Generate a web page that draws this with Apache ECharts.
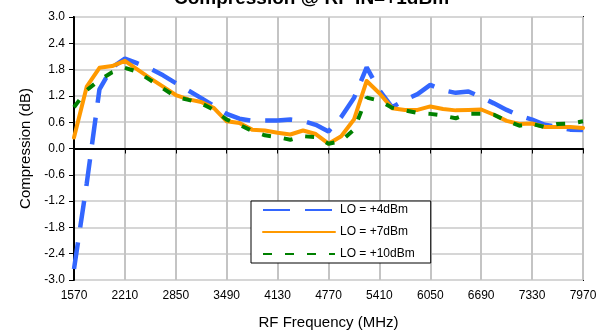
<!DOCTYPE html>
<html>
<head>
<meta charset="utf-8">
<script src="https://cdn.jsdelivr.net/npm/echarts@6/dist/echarts.min.js"></script>
<style>
html,body{margin:0;padding:0;background:#fff;}
#chart{width:601px;height:335px;}
</style>
</head>
<body>
<div id="chart"></div>
<script>
var frequencies = [1570,1730,1890,2050,2210,2370,2530,2690,2850,3010,3170,3330,3490,3650,3810,3970,4130,4290,4450,4610,4770,4930,5090,5250,5410,5570,5730,5890,6050,6210,6370,6530,6690,6850,7010,7170,7330,7490,7650,7810,7970];
var lo4 = [-2.75,-0.8,1.35,1.85,2.05,1.94,1.82,1.67,1.49,1.32,1.15,0.97,0.79,0.68,0.63,0.64,0.64,0.66,0.63,0.54,0.39,0.72,1.15,1.85,1.33,0.94,1.11,1.24,1.45,1.33,1.27,1.30,1.17,1.03,0.88,0.75,0.66,0.54,0.49,0.43,0.42];
var lo7 = [0.25,1.41,1.84,1.88,2.0,1.8,1.6,1.41,1.22,1.12,1.06,0.92,0.62,0.58,0.43,0.41,0.36,0.32,0.41,0.33,0.11,0.28,0.66,1.54,1.26,0.92,0.88,0.88,0.96,0.90,0.87,0.88,0.89,0.77,0.63,0.56,0.57,0.49,0.49,0.49,0.47];
var lo10 = [0.94,1.33,1.56,1.74,1.84,1.75,1.56,1.37,1.18,1.11,1.03,0.88,0.66,0.54,0.40,0.30,0.26,0.20,0.28,0.26,0.11,0.17,0.43,1.16,1.09,0.93,0.87,0.81,0.79,0.75,0.69,0.79,0.79,0.77,0.63,0.52,0.56,0.49,0.56,0.57,0.62];
var seriesNames = ['LO = +4dBm','LO = +7dBm','LO = +10dBm'];
var titleText = 'Compression @ RF IN=+1dBm';
var xTitle = 'RF Frequency (MHz)';
var yTitle = 'Compression (dB)';

var FONT = 'Liberation Sans, Arial, sans-serif';
var chart = echarts.init(document.getElementById('chart'), null, {renderer:'canvas'});
chart.setOption({
  animation:false,
  backgroundColor:'#fff',
  title:{
    text:titleText, left:174, top:-11, padding:0,
    textStyle:{fontFamily:FONT, fontSize:19, fontWeight:'bold', color:'#000'}
  },
  grid:{left:74, right:18, top:17, bottom:53, show:true, borderColor:'#000', borderWidth:2, backgroundColor:'transparent'},
  legend:{
    orient:'vertical', left:251, top:201,
    itemWidth:72, itemHeight:14, itemGap:10,
    padding:[3,16,3,11],
    backgroundColor:'#fff', borderColor:'#000', borderWidth:1,
    textStyle:{fontFamily:FONT, fontSize:12, color:'#000'},
    itemStyle:{opacity:0},
    data:seriesNames
  },
  xAxis:{
    type:'category', data:frequencies, boundaryGap:false,
    name:xTitle, nameLocation:'middle', nameGap:35,
    nameTextStyle:{fontFamily:FONT, fontSize:15, color:'#000'},
    axisLine:{lineStyle:{color:'#000', width:2}},
    axisTick:{interval:3, length:5, lineStyle:{color:'#000', width:1}},
    axisLabel:{interval:3, margin:10, fontFamily:FONT, fontSize:12, color:'#000'},
    splitLine:{show:true, interval:3, lineStyle:{color:'#C4C4C4', width:2}}
  },
  yAxis:{
    type:'value', min:-3, max:3, interval:0.6,
    name:yTitle, nameLocation:'middle', nameGap:41,
    nameTextStyle:{fontFamily:FONT, fontSize:15, color:'#000'},
    axisLine:{show:true, lineStyle:{color:'#000', width:2}},
    axisTick:{show:true, length:5, lineStyle:{color:'#000', width:1}},
    axisLabel:{margin:9, fontFamily:FONT, fontSize:12, color:'#000',
      formatter:function(v){ return (Math.abs(v)<1e-9?0:v).toFixed(1); }},
    splitLine:{show:true, lineStyle:{color:'#D6D6D6', width:2}}
  },
  series:[
    {name:seriesNames[0], type:'line', data:lo4, symbol:'none', z:2,
      lineStyle:{color:'#3366FF', width:4.5, type:[27,15], cap:'butt'}, itemStyle:{color:'#3366FF'}},
    {name:seriesNames[1], type:'line', data:lo7, symbol:'none', z:3,
      lineStyle:{color:'#FF9900', width:4, cap:'round', join:'round'}, itemStyle:{color:'#FF9900'}},
    {name:seriesNames[2], type:'line', data:lo10, symbol:'none', z:4,
      lineStyle:{color:'#008000', width:4, type:[9,13], cap:'butt'}, itemStyle:{color:'#008000'}}
  ]
});
</script>
</body>
</html>
